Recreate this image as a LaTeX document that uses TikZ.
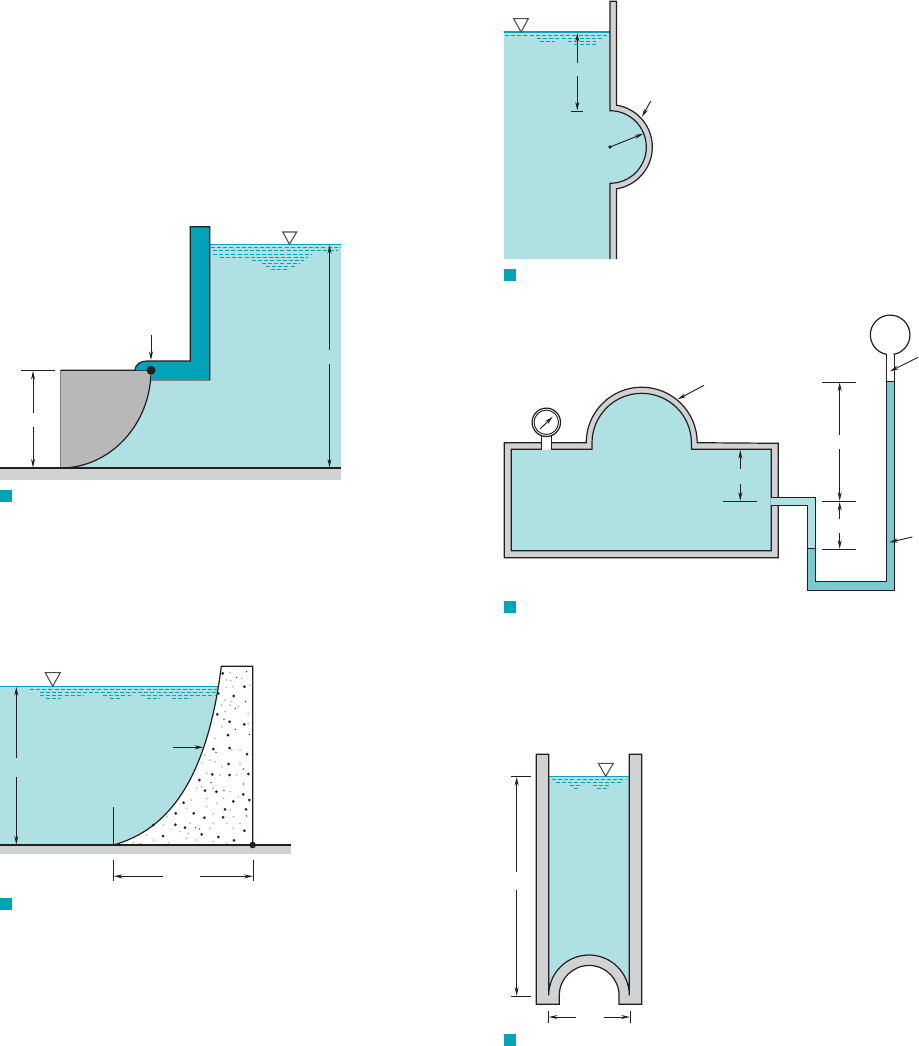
\documentclass[tikz,border=0pt]{standalone}
\usetikzlibrary{arrows.meta}
\definecolor{waterblue}{HTML}{B0E1E2}
\definecolor{tealdark}{HTML}{00A3B8}
\definecolor{fluidblue}{HTML}{7ACBD0}
\definecolor{gategray}{HTML}{B8B8B8}
\definecolor{wallgray}{HTML}{D1D2D3}
\definecolor{inkdark}{HTML}{231F20}
\tikzset{
    >={Stealth[length=6.5pt,width=3pt]},
    outline/.style={draw=inkdark, line width=0.9pt},
    dimline/.style={draw=inkdark, line width=0.7pt},
    tickline/.style={draw=inkdark, line width=0.7pt},
    surfline/.style={draw=tealdark, line width=0.9pt},
    ripple/.style={draw=tealdark, line width=0.6pt, dash pattern=on 3pt off 1.6pt},
    levelmark/.style={draw=inkdark!80, fill=white, line width=0.8pt},
    tag/.style={fill=tealdark},
}
\begin{document}
\begin{tikzpicture}[x=0.75pt,y=-0.75pt]
\useasboundingbox (0,0) rectangle (918,1046);

% gate
\fill[wallgray] (0,468) rectangle (341,480);
\fill[waterblue] (209.7,244.3) -- (341,244.3) -- (341,468) -- (61,468) -- (151,380) -- (209.7,380) -- cycle;
\draw[surfline] (209.7,244.3) -- (341,244.3);
\foreach \ya/\xa/\xb in {247.5/211/341, 250.5/213/338, 254.5/213/312, 257.5/220/308, 260.5/252/304, 263.5/262/300, 266.5/266/296, 269.5/271/289}
    \draw[ripple] (\xa,\ya) -- (\xb,\ya);
\draw[levelmark] (282.7,232) -- (296.7,232) -- (289.5,244.3) -- cycle;
\fill[gategray] (60.5,370.3) -- (151,370.3) .. controls (151,424) and (110.5,468) .. (60.5,468) -- cycle;
\draw[draw=gray, line width=0.9pt] (60.5,370.3) -- (60.5,468);
\draw[outline] (60.5,370.3) -- (151,370.3) .. controls (151,424) and (110.5,468) .. (60.5,468);
\fill[tealdark] (135,370.3) .. controls (135,365) and (140,361) .. (147,361) -- (190.3,361) -- (190.3,226.7) -- (209.7,226.7) -- (209.7,380) -- (151,380) -- (151,370.3) -- cycle;
\draw[outline] (135,370.3) .. controls (135,365) and (140,361) .. (147,361) -- (190.3,361) -- (190.3,226.7) -- (209.7,226.7) -- (209.7,380);
\draw[draw=gray, line width=0.7pt] (151,380) -- (209.7,380);
\draw[outline] (0,468) -- (341,468);
\fill[inkdark] (151,370.3) circle [radius=4.5];
\draw[dimline,->] (151,335) -- (151,360);
\draw[tickline] (21,370.3) -- (55,370.3);
\draw[dimline,->] (33,412.7) -- (33,371);
\draw[dimline,->] (33,426.7) -- (33,467.5);
\draw[dimline,->] (329.5,349.7) -- (329.5,245);
\draw[dimline,->] (329.5,364) -- (329.5,467.5);
\fill[tag] (0,490) rectangle (12,502);

% bump
\fill[waterblue] (504,32) rectangle (610,259);
\fill[waterblue] (610,111) arc [start angle=270, end angle=450, radius=36.3];
\draw[surfline] (504,32) -- (610,32);
\foreach \ya/\xa/\xb in {35.3/505/607, 38.3/537/603, 41.3/540/555, 41.3/568/596, 44.3/574/597}
    \draw[ripple] (\xa,\ya) -- (\xb,\ya);
\draw[levelmark] (513.7,18.7) -- (528.3,18.7) -- (521,32) -- cycle;
\fill[wallgray] (610,1.3) -- (616.5,1.3) -- (616.5,105.2) arc [start angle=278.8, end angle=441.2, radius=42.3] -- (616.5,259) -- (610,259) -- (610,183.3) arc [start angle=90, end angle=-90, radius=36.3] -- cycle;
\draw[outline] (610,259) -- (610,183.3) arc [start angle=90, end angle=-90, radius=36.3] -- (610,1.3) -- (616.5,1.3) -- (616.5,105.2) arc [start angle=278.8, end angle=441.2, radius=42.3] -- (616.5,259);
\draw[dimline,->] (577.3,62.7) -- (577.3,33);
\draw[dimline,->] (577.3,76) -- (577.3,110.5);
\draw[tickline] (571,111) -- (583,111);
\fill[inkdark] (610,147) circle [radius=1.8];
\draw[dimline,->] (610,147) -- (643.3,133.7);
\draw[dimline,->] (650.7,101) -- (642,117);
\fill[tag] (504,269) rectangle (516,281);

% tank
\draw[outline, fill=wallgray] (504.3,442.7) -- (586.2,442.7) arc [start angle=180, end angle=360, radius=55.5] -- (778.3,443.3) -- (778.3,557.7) -- (504.3,557.7) -- cycle;
\draw[outline, fill=waterblue] (511.3,449.3) -- (592,449.3) -- (592,443) arc [start angle=180, end angle=360, radius=49.7] -- (691.4,449.3) -- (771.3,449.3) -- (771.3,550.7) -- (511.3,550.7) -- cycle;
\fill[white] (541.7,435) rectangle (551.3,450.2);
\draw[outline] (541.7,435) -- (541.7,449.3) (551.3,435) -- (551.3,449.3);
\draw[outline, fill=white] (546.3,422.3) circle [radius=14.2];
\draw[draw=inkdark, line width=0.7pt] (546.3,422.3) circle [radius=12.2];
\draw[dimline,->] (540,429) -- (552.7,416.7);
\draw[dimline,->] (704,385.3) -- (677.7,399.3);

% manometer
\fill[waterblue] (770.5,497.3) -- (815.3,497.3) -- (815.3,548.7) -- (807.7,548.7) -- (807.7,505.7) -- (770.5,505.7) -- cycle;
\fill[fluidblue] (807.7,548.7) -- (815.3,548.7) -- (815.3,581.3) -- (886.7,581.3) -- (886.7,381.3) -- (894.7,381.3) -- (894.7,590.3) -- (807.7,590.3) -- cycle;
\draw[outline] (771.3,497.3) -- (815.3,497.3) -- (815.3,581.3) -- (886.7,581.3) -- (886.7,354.4);
\draw[outline] (771.3,505.7) -- (807.7,505.7) -- (807.7,590.3) -- (894.7,590.3) -- (894.7,354.4);
\draw[outline] (807.7,548.7) -- (815.3,548.7);
\draw[draw=inkdark, line width=0.7pt] (886.7,381.3) -- (894.7,381.3);
\draw[outline] (886.7,354.4) arc [start angle=100, end angle=440, radius=19.8];
\draw[tickline] (723,449.3) -- (756.7,449.3);
\draw[tickline] (723,501.3) -- (756.7,501.3);
\draw[dimline,->] (740.3,469.3) -- (740.3,450);
\draw[dimline,->] (740.3,484) -- (740.3,500.8);
\draw[tickline] (822,382) -- (856,382);
\draw[tickline] (822,501.3) -- (856,501.3);
\draw[tickline] (822,549.3) -- (856,549.3);
\draw[dimline,->] (839.7,434.7) -- (839.7,382.5);
\draw[dimline,->] (839.7,449.3) -- (839.7,500.8);
\draw[dimline,->] (839.7,519) -- (839.7,502);
\draw[dimline,->] (839.7,533) -- (839.7,548.8);
\draw[dimline,->] (918,357.3) -- (890,371.3);
\draw[dimline,->] (912.3,537) -- (889.3,542.3);
\fill[tag] (504,601) rectangle (516,613);

% dam
\fill[wallgray] (0,845) rectangle (290.7,853.7);
\fill[waterblue] (0,686.3) rectangle (225,845);
\draw[surfline] (0,686.3) -- (225,686.3);
\foreach \ya/\xa/\xb in {689.3/30/217, 692.3/40/217, 695.3/40/83, 695.3/103/131, 695.3/141/215, 698.3/46/61, 698.3/110/121, 698.3/147/160, 698.3/172/191}
    \draw[ripple] (\xa,\ya) -- (\xb,\ya);
\draw[levelmark] (45.3,672.7) -- (60.3,672.7) -- (52.7,686.3) -- cycle;
\fill[white] (113.3,845) .. controls (168,830) and (207,780) .. (221.3,666.3) -- (252.7,666.3) -- (252.7,845) -- cycle;
\foreach \px/\py in {668/40,733/80,701/108,655/100,652/163,689/185,733/193,684/225,640/267,689/264,741/282,686/312,637/343,689/345,745/342,598/360,615/392,649/395,730/403,748/420,700/424,551/428,675/448,738/448,527/460,581/460,613/473,669/472,526/494,555/503,489/528,605/523,655/531,702/541,733/512,460/495}
    \fill[inkdark] ({\px/3},{660+\py/3}) circle [radius=1.5];
\foreach \px/\py in {710/52,740/35,672/178,737/125,706/145,706/208,748/223,648/277,730/327,633/368,730/372,672/392,599/507,587/503,421/552,740/468}
    \fill[inkdark] ({\px/3},{660+\py/3}) circle [radius=0.7];
\foreach \px/\py in {690/38,680/60,692/62,725/55,698/80,680/82,750/75,675/120,695/125,690/135,665/135,675/155,715/140,745/160,665/200,745/190,645/235,695/270,720/270,615/285,630/300,645/305,605/310,720/310,665/320,620/340,660/345,710/345,590/385,605/380,640/385,690/395,715/410,670/415,620/415,575/420,650/430,690/450,620/440,560/445,640/460,700/470,500/470,490/495,570/490,640/490,680/490,720/490,540/515,565/520,630/505,700/505,460/540,400/548,505/548,440/525,590/540,640/545,680/550,560/535}
    \fill[gategray] ({\px/3},{660+\py/3}) circle [radius=1];
\draw[outline] (113.3,845) .. controls (168,830) and (207,780) .. (221.3,666.3) -- (252.7,666.3) -- (252.7,845);
\draw[outline] (0,845) -- (290.7,845);
\fill[inkdark] (252.7,845) circle [radius=3.3];
\draw[tickline] (113.3,807) -- (113.3,845);
\draw[dimline,->] (16.3,757.7) -- (16.3,687);
\draw[dimline,->] (16.3,777) -- (16.3,844.5);
\draw[dimline,->] (173,747.3) -- (203.3,747.3);
\draw[tickline] (113.3,860) -- (113.3,881.3);
\draw[tickline] (253.3,860) -- (253.3,881.3);
\draw[dimline,->] (163,876.3) -- (113.8,876.3);
\draw[dimline,->] (200,876.3) -- (252.8,876.3);
\fill[tag] (0,898) rectangle (12,910);

% channel
\fill[waterblue] (548.7,776.3) -- (629.3,776.3) -- (629.3,995.3) arc [start angle=360, end angle=180, radius=40.3] -- cycle;
\draw[surfline] (548.7,776.3) -- (629.3,776.3);
\foreach \ya/\xa/\xb in {779.3/552/627, 782.3/556/623, 785.3/570/582, 785.3/593/609, 788.3/574/579, 788.3/597/607}
    \draw[ripple] (\xa,\ya) -- (\xb,\ya);
\draw[levelmark] (598.3,763.3) -- (613.3,763.3) -- (605.7,776.3) -- cycle;
\draw[outline, fill=wallgray] (536.3,754.3) -- (548.7,754.3) -- (548.7,995.3) arc [start angle=180, end angle=360, radius=40.3] -- (629.3,754.3) -- (641.7,754.3) -- (641.7,1004.3) -- (619,1004.3) -- (619,995.3) arc [start angle=360, end angle=180, radius=29.85] -- (559.3,1004.3) -- (536.3,1004.3) -- cycle;
\draw[tickline] (511,776.3) -- (531,776.3);
\draw[tickline] (511,996.3) -- (531,996.3);
\draw[dimline,->] (516.7,872.3) -- (516.7,777);
\draw[dimline,->] (516.7,890) -- (516.7,995.8);
\draw[tickline] (548.3,1011) -- (548.3,1022.7);
\draw[tickline] (630.3,1011) -- (630.3,1022.7);
\draw[dimline,->] (576,1017) -- (548.8,1017);
\draw[dimline,->] (604,1017) -- (629.8,1017);
\fill[tag] (504,1034) rectangle (516,1046);

\end{tikzpicture}
\end{document}
